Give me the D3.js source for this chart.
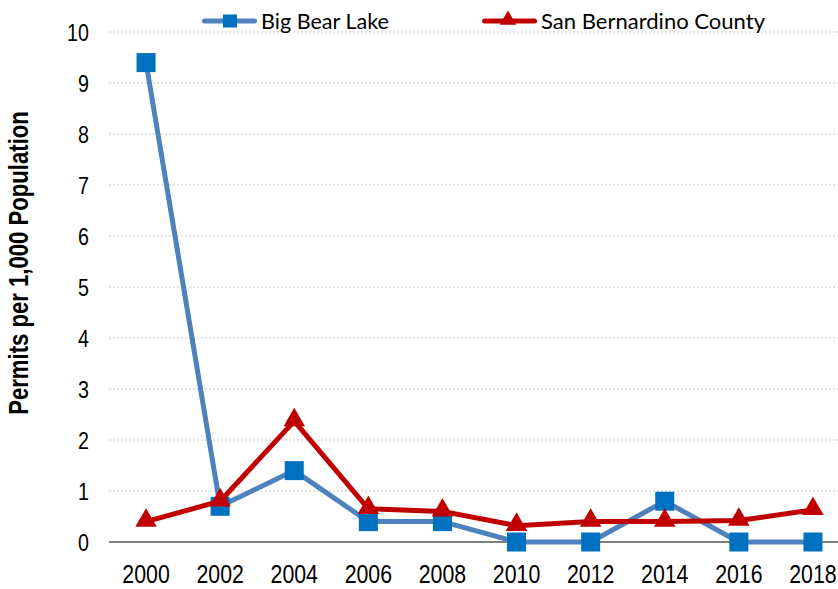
<!doctype html>
<meta charset="utf-8">
<style>
  body { margin: 0; background: #fff; }
  svg text { fill: #000; }
</style>
<div id="chart"></div>
<script src="https://cdn.jsdelivr.net/npm/d3@7"></script>
<script>

let years = ["2000", "2002", "2004", "2006", "2008", "2010", "2012", "2014", "2016", "2018"]
let bigBear = [9.4, 0.7, 1.4, 0.4, 0.4, 0, 0, 0.8, 0, 0]
let sanBernardino = [0.4, 0.8, 2.37, 0.65, 0.6, 0.32, 0.4, 0.4, 0.42, 0.63]
let yTicks = [0, 1, 2, 3, 4, 5, 6, 7, 8, 9, 10]

let width = 838, height = 589
let margin = {top: 32, right: -12, bottom: 47, left: 109}
let plotWidth = width - margin.left - margin.right
let plotHeight = height - margin.top - margin.bottom

// no Arial Narrow here, so squeeze Liberation Sans horizontally
let narrow = 0.82
let sans = "'Liberation Sans', Arial, sans-serif"

let svg = d3.select("#chart").append("svg")
    .attr("width", width)
    .attr("height", height)

let g = svg.append("g")
    .attr("transform", "translate(" + margin.left + "," + margin.top + ")")

let x = d3.scaleBand().domain(years).range([0, plotWidth])
let y = d3.scaleLinear().domain([0, 10]).range([plotHeight, 0])
let cx = d => x(d) + x.bandwidth() / 2

// gridlines
g.selectAll(".grid")
    .data(yTicks.filter(d => d > 0))
    .join("line")
    .attr("x1", 0).attr("x2", width - margin.left)
    .attr("y1", d => y(d)).attr("y2", d => y(d))
    .style("stroke", "#c8c8c8")
    .style("stroke-width", 1)
    .style("stroke-dasharray", "2,2")

// y axis labels
let yAxis = d3.axisLeft(y).tickValues(yTicks).tickSize(0)
g.append("g").call(yAxis)
    .call(a => a.select(".domain").remove())
    .selectAll("text")
    .attr("x", -20 / narrow)
    .attr("dy", "0.36em")
    .attr("transform", "scale(" + narrow + ",1)")
    .style("font-family", sans)
    .style("font-size", "24px")

// x axis
let xAxis = d3.axisBottom(x).tickSize(0)
g.append("g")
    .attr("transform", "translate(0," + plotHeight + ")")
    .call(xAxis)
    .call(a => a.select(".domain").remove())
    .selectAll("text")
    .attr("y", 41)
    .attr("dy", 0)
    .attr("transform", "scale(" + narrow + ",1)")
    .style("font-family", sans)
    .style("font-size", "26px")

g.append("line")
    .attr("x1", 0).attr("x2", width - margin.left)
    .attr("y1", y(0)).attr("y2", y(0))
    .style("stroke", "#808080")
    .style("stroke-width", 2)

// y title
svg.append("text")
    .attr("transform", "translate(28,263) rotate(-90) scale(" + narrow + ",1)")
    .style("text-anchor", "middle")
    .style("font-family", sans)
    .style("font-weight", "bold")
    .style("font-size", "27px")
    .text("Permits per 1,000 Population")

let line = d3.line().x((d, i) => cx(years[i])).y(d => y(d))

let triangle = d3.symbol().type(d3.symbolTriangle).size(200)

// Big Bear Lake
g.append("path")
    .attr("d", line(bigBear))
    .style("fill", "none")
    .style("stroke", "#4f81bd")
    .style("stroke-width", 5)
    .style("stroke-linejoin", "round")

g.selectAll(".sq")
    .data(bigBear)
    .join("rect")
    .attr("x", (d, i) => cx(years[i]) - 9.5)
    .attr("y", d => y(d) - 9.5)
    .attr("width", 19).attr("height", 19)
    .style("fill", "#0070c0")

// San Bernardino County
g.append("path")
    .attr("d", line(sanBernardino))
    .style("fill", "none")
    .style("stroke", "#c00000")
    .style("stroke-width", 5)
    .style("stroke-linejoin", "round")

g.selectAll(".tri")
    .data(sanBernardino)
    .join("path")
    .attr("d", triangle)
    .attr("transform", (d, i) => "translate(" + cx(years[i]) + "," + (y(d) - 1) + ")")
    .style("fill", "#c00000")

// legend
let legend = [
    {name: "Big Bear Lake", line: "#4f81bd", mark: "#0070c0", x: 202, textLen: 128, shape: "square"},
    {name: "San Bernardino County", line: "#c00000", mark: "#c00000", x: 482, textLen: 224, shape: "triangle"}
]
let lg = svg.selectAll(".legend").data(legend).join("g")
    .attr("transform", d => "translate(" + d.x + ",21)")
lg.append("rect")
    .attr("x", 0).attr("y", -2.5).attr("width", 55).attr("height", 5).attr("rx", 2.5)
    .style("fill", d => d.line)
lg.filter(d => d.shape == "square").append("rect")
    .attr("x", 21).attr("y", -6.5).attr("width", 14).attr("height", 13)
    .style("fill", d => d.mark)
lg.filter(d => d.shape == "triangle").append("path")
    .attr("d", d3.symbol().type(d3.symbolTriangle).size(120))
    .attr("transform", "translate(26,-1)")
    .style("fill", d => d.mark)
lg.append("text")
    .attr("x", 59).attr("y", 8)
    .attr("textLength", d => d.textLen)
    .attr("lengthAdjust", "spacingAndGlyphs")
    .style("font-family", "Lato, 'Open Sans', sans-serif")
    .style("font-size", "22px")
    .text(d => d.name)

</script>
